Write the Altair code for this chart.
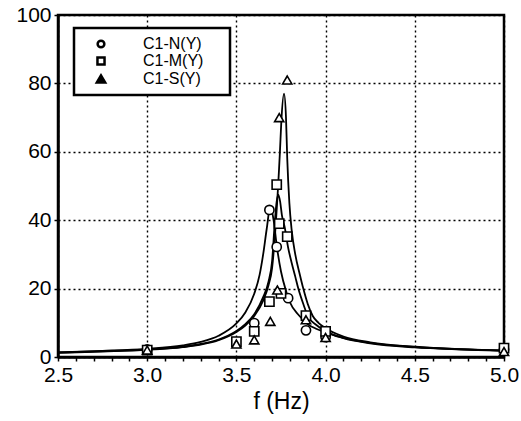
import altair as alt
import pandas as pd

series_names = ["C1-N(Y)", "C1-M(Y)", "C1-S(Y)"]
series_shapes = ["circle", "square", "triangle-up"]

n_pts_f = [3.0, 3.6, 3.685, 3.726, 3.79, 3.89, 4.0, 5.0]
n_pts_y = [2.2, 9.9, 43.0, 32.2, 17.2, 7.8, 5.8, 2.2]

m_pts_f = [3.0, 3.5, 3.6, 3.685, 3.726, 3.74, 3.75, 3.785, 3.89, 4.0, 5.0]
m_pts_y = [2.0, 4.5, 7.5, 16.2, 50.4, 39.0, 18.6, 35.2, 12.1, 7.5, 2.6]

s_pts_f = [3.0, 3.5, 3.6, 3.69, 3.73, 3.74, 3.785, 3.89, 4.0, 5.0]
s_pts_y = [2.0, 3.8, 5.0, 10.4, 19.6, 70.0, 81.0, 10.9, 5.7, 1.6]

# ---- fitted curves ----
n_curve_f = [2.5, 2.75, 3.0, 3.2, 3.3, 3.4, 3.5, 3.55, 3.6, 3.63, 3.65, 3.67, 3.69,
             3.71, 3.725, 3.75, 3.78, 3.8, 3.85, 3.9, 3.95, 4.0, 4.1, 4.25, 4.5, 4.75, 5.0]
n_curve_y = [1.4, 1.8, 2.4, 3.4, 4.4, 6.2, 9.8, 13.0, 18.5, 24.0, 30.0, 37.5, 44.0,
             39.5, 33.0, 25.0, 19.0, 16.0, 12.2, 9.6, 8.2, 7.2, 5.6, 4.1, 2.9, 2.3, 1.9]

m_curve_f = [2.5, 2.75, 3.0, 3.2, 3.3, 3.4, 3.5, 3.55, 3.6, 3.65, 3.68, 3.70, 3.716,
             3.726, 3.735, 3.745, 3.755, 3.772, 3.79, 3.81, 3.83, 3.847, 3.875, 3.903,
             3.95, 4.0, 4.1, 4.25, 4.5, 4.75, 5.0]
m_curve_y = [1.3, 1.7, 2.2, 3.0, 3.8, 5.1, 7.6, 9.6, 12.5, 17.5, 22.0, 28.0, 40.0,
             45.5, 47.5, 45.5, 41.5, 37.6, 32.0, 27.5, 23.5, 20.0, 15.5, 11.7,
             9.3, 7.5, 5.5, 4.0, 2.8, 2.2, 1.8]

s_curve_f = [2.5, 2.75, 3.0, 3.2, 3.3, 3.4, 3.5, 3.55, 3.6, 3.65, 3.68, 3.70, 3.722,
             3.744, 3.752, 3.767, 3.778, 3.785, 3.797, 3.81, 3.83, 3.856, 3.875, 3.9,
             3.928, 3.96, 4.0, 4.1, 4.25, 4.5, 4.75, 5.0]
s_curve_y = [1.2, 1.6, 2.1, 2.9, 3.6, 4.9, 7.3, 9.2, 12.0, 16.5, 21.0, 26.0, 40.0,
             60.0, 69.0, 77.0, 70.0, 58.0, 45.0, 37.0, 30.0, 24.0, 20.0, 15.5,
             12.0, 10.0, 8.4, 6.0, 4.3, 3.0, 2.3, 1.9]

x_ticks = [2.5, 2.6, 2.7, 2.8, 2.9, 3.0, 3.1, 3.2, 3.3, 3.4, 3.5, 3.6, 3.7, 3.8, 3.9,
           4.0, 4.1, 4.2, 4.3, 4.4, 4.5, 4.6, 4.7, 4.8, 4.9, 5.0]
y_ticks = [0, 20, 40, 60, 80, 100]

pts = pd.concat([
    pd.DataFrame({"f": n_pts_f, "y": n_pts_y, "series": series_names[0]}),
    pd.DataFrame({"f": m_pts_f, "y": m_pts_y, "series": series_names[1]}),
    pd.DataFrame({"f": s_pts_f, "y": s_pts_y, "series": series_names[2]}),
], ignore_index=True)

curves = pd.concat([
    pd.DataFrame({"f": n_curve_f, "y": n_curve_y, "series": series_names[0]}),
    pd.DataFrame({"f": m_curve_f, "y": m_curve_y, "series": series_names[1]}),
    pd.DataFrame({"f": s_curve_f, "y": s_curve_y, "series": series_names[2]}),
], ignore_index=True)

FONT = "Liberation Sans"
major_test = "abs(datum.value * 2 - round(datum.value * 2)) < 0.001"

x_enc = alt.X(
    "f:Q",
    scale=alt.Scale(domain=[2.5, 5.0], nice=False, zero=False),
    axis=alt.Axis(
        values=x_ticks,
        labelExpr=f"({major_test}) ? format(datum.value, '.1f') : ''",
        gridOpacity={"condition": {"test": major_test, "value": 1}, "value": 0},
        labelFlush=False,
        labelOverlap=False,
        title="f (Hz)",
    ),
)
y_enc = alt.Y(
    "y:Q",
    scale=alt.Scale(domain=[0, 100], nice=False),
    axis=alt.Axis(values=y_ticks, title=""),
)

lines = alt.Chart(curves).mark_line(
    color="black", strokeWidth=1.8, interpolate="monotone", clip=True
).encode(x=x_enc, y=y_enc, detail="series:N", order="f:Q")

points = alt.Chart(pts).mark_point(
    filled=False, fill="white", fillOpacity=1, stroke="black",
    strokeWidth=1.6, size=85, opacity=1
).encode(
    x=x_enc,
    y=y_enc,
    shape=alt.Shape(
        "series:N",
        scale=alt.Scale(domain=series_names, range=series_shapes),
        legend=None,
    ),
)

# ---- legend box drawn by hand (layout in pixels) ----
one = pd.DataFrame({"k": [0]})
legend_box = alt.Chart(one).mark_rect(
    fill="white", stroke="black", strokeWidth=2.5
).encode(x=alt.value(16), x2=alt.value(172), y=alt.value(13), y2=alt.value(80))

legend_rows_y = [29, 46, 64]
legend_fill = ["white", "white", "black"]
legend_size = [45, 50, 70]
legend_layers = []
for name, shp, ly, fc, sz in zip(series_names, series_shapes, legend_rows_y,
                                 legend_fill, legend_size):
    legend_layers.append(
        alt.Chart(one).mark_point(
            shape=shp, fill=fc, fillOpacity=1, stroke="black", strokeWidth=2.5,
            size=sz, opacity=1
        ).encode(x=alt.value(43), y=alt.value(ly))
    )
    legend_layers.append(
        alt.Chart(one).mark_text(
            text=name, font=FONT, fontSize=16, align="left", baseline="middle",
            color="black"
        ).encode(x=alt.value(85), y=alt.value(ly))
    )

chart = alt.layer(lines, points, legend_box, *legend_layers).properties(
    width=446,
    height=342,
    autosize=alt.AutoSizeParams(type="none"),
    padding={"left": 58, "top": 15, "right": 17, "bottom": 64},
    background="white",
).configure_view(
    stroke="black", strokeWidth=2.5
).configure_axis(
    domainColor="black",
    domainWidth=2.5,
    tickColor="black",
    tickWidth=1.5,
    tickSize=4,
    gridColor="black",
    gridDash=[2, 3],
    gridWidth=1.4,
    labelFont=FONT,
    labelFontSize=21,
    labelColor="black",
    labelPadding=3,
    titleFont=FONT,
    titleFontSize=23,
    titleFontWeight="normal",
    titleColor="black",
    titlePadding=5,
)

chart.save("out.html", embed_options={"renderer": "svg", "actions": False})
